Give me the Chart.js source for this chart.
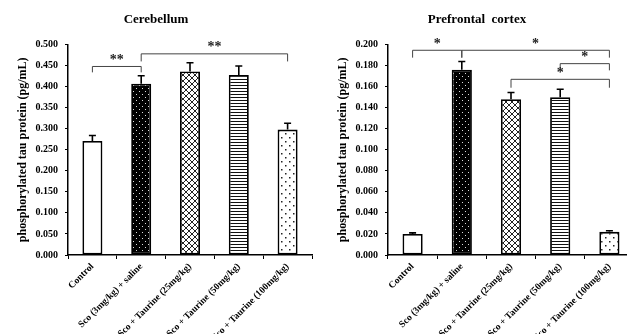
<!DOCTYPE html>
<html>
<head>
<meta charset="utf-8">
<script src="https://cdn.jsdelivr.net/npm/chart.js@4.4.1/dist/chart.umd.min.js"></script>
<style>
  html, body { margin: 0; padding: 0; background: #fff; overflow: hidden; width: 627px; height: 334px; }
  .panel { position: absolute; top: 0; }
</style>
</head>
<body>
<div class="panel" style="left:0px"><canvas id="cerebellum" width="320" height="334"></canvas></div>
<div class="panel" style="left:320px"><canvas id="cortex" width="320" height="334"></canvas></div>
<script>
// ---------------- data ----------------
const categories = [
    'Control',
    'Sco (3mg/kg) + saline',
    'Sco + Taurine (25mg/kg)',
    'Sco + Taurine (50mg/kg)',
    'Sco + Taurine (100mg/kg)'
];

const cerebellumValues = [0.271, 0.407, 0.436, 0.428, 0.298];
const cerebellumErrors = [0.013, 0.019, 0.021, 0.021, 0.015];
const cortexValues = [0.020, 0.176, 0.148, 0.150, 0.022];
const cortexErrors = [0.001, 0.008, 0.0065, 0.0075, 0.001];

// significance brackets: [fromIndex, toIndex, level, drop, label]
const cerebellumSig = [
    [0, 1, 0.448, 0.014, '**'],
    [1, 4, 0.478, 0.018, '**']
];
const cortexSig = [
    [0, 1, 0.1946, 0.007, '*'],
    [1, 4, 0.1946, 0.007, '*'],
    [3, 4, 0.1819, 0.0064, '*'],
    [2, 4, 0.1670, 0.008, '*']
];

const yTitle = 'phosphorylated tau protein (pg/mL)';
const serif = '"Liberation Serif", "Times New Roman", serif';

// ---------------- patterns ----------------
function makePattern(w, h, draw) {
    const c = document.createElement('canvas');
    c.width = w; c.height = h;
    const g = c.getContext('2d');
    draw(g);
    return g.createPattern(c, 'repeat');
}

const patSaline = makePattern(6, 6, g => {
    g.fillStyle = '#000'; g.fillRect(0, 0, 6, 6);
    g.fillStyle = '#ddd';
    g.fillRect(1, 1, 1, 1);
    g.fillRect(4, 4, 1, 1);
});
const patCross = makePattern(6, 6, g => {
    g.fillStyle = '#fff'; g.fillRect(0, 0, 6, 6);
    g.strokeStyle = '#222'; g.lineWidth = 1;
    g.beginPath();
    g.moveTo(0, 0); g.lineTo(6, 6);
    g.moveTo(6, 0); g.lineTo(0, 6);
    g.stroke();
});
const patLines = makePattern(4, 3, g => {
    g.fillStyle = '#fff'; g.fillRect(0, 0, 4, 3);
    g.fillStyle = '#111'; g.fillRect(0, 1, 4, 1);
});
const patDots = makePattern(8, 8, g => {
    g.fillStyle = '#fff'; g.fillRect(0, 0, 8, 8);
    g.fillStyle = '#222';
    g.fillRect(1, 1, 1.5, 1.5);
    g.fillRect(5, 5, 1.5, 1.5);
});
const barFills = ['#ffffff', patSaline, patCross, patLines, patDots];

// ---------------- plugins ----------------
const errorBarPlugin = {
    id: 'errorBars',
    afterDatasetsDraw(chart, args, opts) {
        const ctx = chart.ctx;
        const yScale = chart.scales.y;
        const meta = chart.getDatasetMeta(0);
        const values = chart.data.datasets[0].data;
        ctx.save();
        ctx.strokeStyle = '#000';
        ctx.lineWidth = 1.6;
        meta.data.forEach((bar, i) => {
            const top = yScale.getPixelForValue(values[i] + opts.errors[i]);
            ctx.beginPath();
            ctx.moveTo(bar.x, bar.y);
            ctx.lineTo(bar.x, top);
            ctx.moveTo(bar.x - 3.5, top);
            ctx.lineTo(bar.x + 3.5, top);
            ctx.stroke();
        });
        ctx.restore();
    }
};

const bracketPlugin = {
    id: 'brackets',
    afterDraw(chart, args, opts) {
        const ctx = chart.ctx;
        const xScale = chart.scales.x;
        const yScale = chart.scales.y;
        ctx.save();
        ctx.strokeStyle = '#444';
        ctx.lineWidth = 1;
        ctx.fillStyle = '#222';
        ctx.font = 'bold 14px ' + serif;
        ctx.textAlign = 'center';
        ctx.textBaseline = 'middle';
        opts.items.forEach(([a, b, level, drop, label]) => {
            const x1 = xScale.getPixelForValue(a);
            const x2 = xScale.getPixelForValue(b);
            const y = yScale.getPixelForValue(level);
            const yEnd = yScale.getPixelForValue(level - drop);
            ctx.beginPath();
            ctx.moveTo(x1, yEnd);
            ctx.lineTo(x1, y);
            ctx.lineTo(x2, y);
            ctx.lineTo(x2, yEnd);
            ctx.stroke();
            ctx.fillText(label, (x1 + x2) / 2, y - 6);
        });
        ctx.restore();
    }
};

// ---------------- charts ----------------
function buildChart(id, title, values, errors, sig, yMax, yStep, rightPad) {
    const ctx = document.getElementById(id).getContext('2d');
    return new Chart(ctx, {
        type: 'bar',
        data: {
            labels: categories,
            datasets: [{
                data: values,
                backgroundColor: barFills,
                borderColor: '#000',
                borderWidth: 1.8,
                borderSkipped: false,
                barPercentage: 0.41,
                categoryPercentage: 1
            }]
        },
        options: {
            responsive: false,
            animation: false,
            layout: { padding: { left: 0, right: rightPad, top: 0, bottom: 0 } },
            plugins: {
                legend: { display: false },
                tooltip: { enabled: false },
                title: {
                    display: true,
                    text: title,
                    color: '#000',
                    font: { family: serif, size: 13, weight: 'bold' },
                    padding: { top: 12, bottom: 17 }
                },
                errorBars: { errors: errors },
                brackets: { items: sig }
            },
            scales: {
                x: {
                    afterFit(scale) { scale.height = 79; },
                    grid: {
                        offset: true,
                        drawOnChartArea: false,
                        drawTicks: true,
                        tickLength: 4,
                        color: '#000'
                    },
                    border: { color: '#000', width: 1.5 },
                    ticks: {
                        autoSkip: false,
                        maxRotation: 45,
                        minRotation: 45,
                        color: '#000',
                        padding: 2,
                        font: { family: serif, size: 9.5, weight: 'bold' }
                    }
                },
                y: {
                    min: 0,
                    max: yMax,
                    afterFit(scale) { scale.width = 68; },
                    grid: {
                        drawOnChartArea: false,
                        drawTicks: true,
                        tickLength: 3,
                        color: '#000'
                    },
                    border: { color: '#000', width: 1.5 },
                    ticks: {
                        stepSize: yStep,
                        color: '#000',
                        padding: 7,
                        font: { family: serif, size: 10, weight: 'bold' },
                        callback: v => v.toFixed(3)
                    },
                    title: {
                        display: true,
                        text: yTitle,
                        color: '#000',
                        font: { family: serif, size: 12, weight: 'bold' },
                        padding: { top: 16, bottom: 0 }
                    }
                }
            }
        },
        plugins: [errorBarPlugin, bracketPlugin]
    });
}

buildChart('cerebellum', 'Cerebellum', cerebellumValues, cerebellumErrors, cerebellumSig, 0.5, 0.05, 8);
buildChart('cortex', 'Prefrontal  cortex', cortexValues, cortexErrors, cortexSig, 0.2, 0.02, 6);
</script>
</body>
</html>
